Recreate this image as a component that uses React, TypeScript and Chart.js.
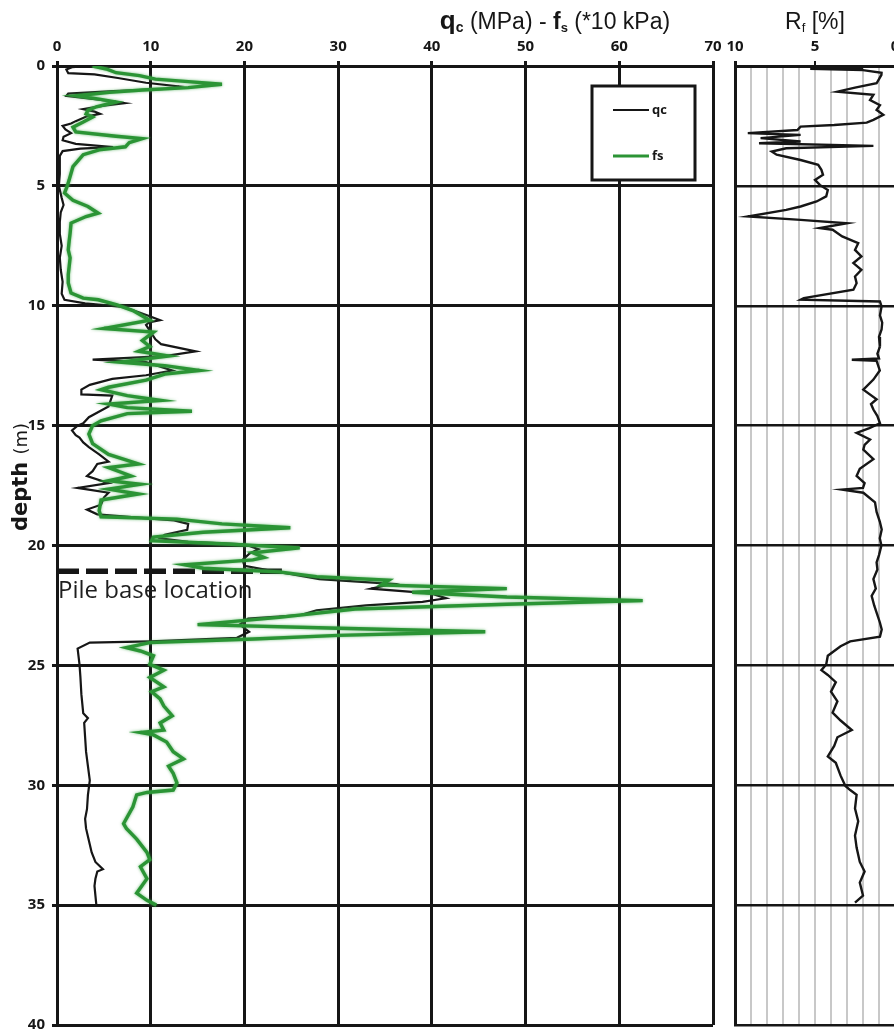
import { useEffect, useRef } from "react";
import { Chart, registerables } from "chart.js";

Chart.register(...registerables);

// Cone resistance qc (MPa) against depth (m)
const qcDepth = [
  0.0, 0.05, 0.15, 0.3, 0.35, 0.5, 0.7, 0.85, 0.95, 1.05, 1.15, 1.25, 1.4, 1.55, 1.65, 1.8, 1.9, 2.0, 2.1, 2.3,
  2.4, 2.5, 2.65, 2.8, 2.95, 3.1, 3.25, 3.38, 3.45, 3.55, 3.75, 4.5, 5.0, 5.5, 5.8, 6.1, 6.5, 7.0, 7.5, 8.0,
  8.5, 9.0, 9.5, 9.75, 9.9, 10.05, 10.2, 10.4, 10.6, 10.7, 10.8, 11.1, 11.4, 11.6, 11.9, 12.1, 12.25, 12.35, 12.7, 12.9,
  13.05, 13.3, 13.5, 13.7, 13.75, 14.2, 14.65, 14.9, 15.0, 15.2, 15.4, 15.5, 15.7, 15.9, 16.2, 16.5, 16.6, 16.9, 17.1, 17.4,
  17.6, 17.8, 18.0, 18.3, 18.5, 18.7, 18.85, 18.95, 19.1, 19.35, 19.55, 19.7, 19.85, 19.95, 20.15, 20.35, 20.6, 20.85, 21.1, 21.2,
  21.4, 21.6, 21.8, 22.0, 22.2, 22.35, 22.5, 22.7, 22.9, 23.05, 23.3, 23.6, 23.85, 24.0, 24.05, 24.3, 24.96, 25.5, 26.2, 27.0,
  27.2, 27.4, 28.0, 28.6, 29.2, 29.8, 30.4, 31.0, 31.4, 31.8, 32.3, 32.8, 33.2, 33.5, 33.6, 33.9, 34.2, 34.6, 35.0,
];
const qcValue = [
  3.5, 1.6, 1.0, 1.2, 4.0, 6.5, 9.5, 13.0, 12.0, 6.0, 1.2, 1.0, 4.5, 7.2, 5.0, 2.8, 4.0, 4.6, 3.2, 2.0,
  1.5, 0.6, 0.9, 1.5, 0.7, 0.6, 2.0, 6.0, 2.5, 0.6, 0.3, 0.3, 0.2, 0.5, 0.7, 0.4, 0.3, 0.3, 0.5, 0.3,
  0.4, 0.6, 0.5, 0.8, 3.0, 7.0, 8.2, 9.6, 11.0, 9.8, 9.5, 10.0, 10.5, 11.1, 14.8, 11.5, 3.8, 9.5, 12.3, 9.5,
  5.9, 3.5, 2.6, 2.6, 5.9, 5.5, 3.4, 2.8, 2.2, 1.6, 2.0, 2.4, 2.8, 3.4, 4.5, 5.5, 4.3, 3.8, 3.2, 5.5,
  2.2, 5.5, 5.0, 4.7, 3.2, 4.3, 9.0, 12.5, 14.0, 13.9, 11.5, 11.0, 14.0, 20.0, 21.5, 20.5, 19.8, 20.0, 23.5, 25.0,
  28.0, 35.8, 33.5, 39.9, 41.5, 39.0, 33.0, 27.7, 26.0, 20.4, 19.5, 20.5, 19.2, 10.0, 3.5, 2.2, 2.4, 2.5, 2.6, 2.8,
  3.3, 2.9, 3.0, 3.1, 3.3, 3.5, 3.3, 3.2, 3.0, 3.1, 3.4, 3.7, 4.1, 4.9, 4.3, 4.1, 4.0, 4.1, 4.2,
];

// Sleeve friction fs (x10 kPa) against depth (m)
const fsDepth = [
  0.0, 0.14, 0.28, 0.4, 0.55, 0.65, 0.76, 0.9, 1.0, 1.1, 1.24, 1.38, 1.5, 1.7, 1.85, 2.0, 2.13, 2.34, 2.55, 2.75,
  2.93, 3.03, 3.2, 3.37, 3.5, 3.7, 4.2, 4.75, 5.0, 5.3, 5.6, 5.86, 6.14, 6.28, 6.55, 6.97, 7.3, 7.67, 8.0, 8.36,
  8.7, 9.05, 9.47, 9.68, 9.75, 9.96, 10.2, 10.45, 10.6, 10.95, 11.1, 11.45, 11.7, 11.9, 12.1, 12.35, 12.5, 12.7, 12.85, 13.1,
  13.4, 13.5, 13.75, 13.95, 14.1, 14.25, 14.4, 14.5, 14.8, 15.0, 15.35, 15.75, 16.2, 16.6, 16.75, 17.1, 17.3, 17.45, 17.65, 17.85,
  18.1, 18.55, 18.8, 18.9, 19.1, 19.26, 19.45, 19.65, 19.8, 19.93, 20.1, 20.3, 20.5, 20.6, 20.8, 20.95, 21.1, 21.3, 21.45, 21.65,
  21.8, 21.95, 22.15, 22.3, 22.45, 22.65, 23.0, 23.3, 23.45, 23.6, 23.75, 23.9, 24.05, 24.26, 24.4, 24.6, 24.96, 25.2, 25.5, 25.9,
  26.1, 26.4, 26.7, 27.1, 27.4, 27.7, 27.8, 27.9, 28.2, 28.6, 28.9, 29.2, 29.5, 29.9, 30.2, 30.3, 30.4, 30.9, 31.6, 31.8,
  32.25, 32.8, 33.1, 33.4, 33.9, 34.5, 34.8, 35.0,
];
const fsValue = [
  3.8, 5.4, 6.3, 8.8, 10.5, 14.0, 17.6, 14.0, 9.1, 5.6, 2.0, 4.5, 6.3, 4.2, 3.3, 3.1, 3.8, 2.8, 1.7, 2.0,
  6.3, 9.1, 7.7, 7.3, 4.5, 2.8, 1.7, 1.3, 1.1, 0.8, 1.7, 3.3, 4.4, 3.1, 1.5, 1.4, 1.3, 1.2, 1.4, 1.3,
  1.2, 1.2, 1.5, 2.8, 4.4, 6.4, 8.1, 9.2, 9.9, 5.0, 10.3, 9.1, 9.9, 8.7, 11.9, 6.7, 11.5, 15.2, 11.5, 9.5,
  5.5, 4.7, 7.5, 11.1, 5.5, 7.5, 14.4, 7.5, 4.7, 3.8, 3.4, 3.8, 5.5, 8.7, 5.5, 7.9, 5.5, 8.9, 5.5, 8.7,
  4.7, 4.5, 4.7, 12.8, 17.6, 24.9, 15.6, 10.3, 10.1, 17.6, 25.9, 20.9, 22.1, 20.9, 13.6, 15.6, 23.7, 27.7, 35.4, 34.6,
  48.0, 37.9, 48.0, 62.5, 48.0, 31.8, 23.7, 15.0, 30.0, 45.7, 30.0, 21.0, 9.9, 7.4, 8.9, 10.3, 9.9, 11.4, 9.9, 11.4,
  10.1, 11.0, 11.4, 12.3, 11.0, 11.4, 8.9, 10.3, 11.7, 12.4, 13.5, 11.9, 12.4, 12.8, 12.4, 9.6, 8.5, 8.1, 7.1, 7.4,
  8.5, 9.6, 9.9, 8.9, 9.6, 8.5, 9.6, 10.6,
];

// Friction ratio Rf (%) against depth (m)
const rfDepth = [
  0.0, 0.1, 0.12, 0.17, 0.28, 0.37, 0.55, 0.72, 0.9, 1.07, 1.2, 1.42, 1.63, 1.83, 2.04, 2.25, 2.36, 2.46, 2.53, 2.67,
  2.8, 2.875, 3.01, 3.15, 3.22, 3.33, 3.43, 3.57, 3.7, 3.92, 4.12, 4.33, 4.54, 4.75, 4.96, 5.17, 5.44, 5.65, 5.86, 6.0,
  6.28, 6.42, 6.56, 6.76, 6.83, 7.11, 7.39, 7.67, 7.94, 8.22, 8.5, 8.78, 9.06, 9.33, 9.68, 9.75, 9.82, 10.03, 10.4, 10.7,
  10.99, 11.3, 11.7, 12.0, 12.2, 12.25, 12.3, 12.7, 13.08, 13.5, 13.9, 14.1, 14.33, 14.6, 14.9, 15.1, 15.3, 15.58, 15.8, 16.0,
  16.4, 16.8, 17.1, 17.4, 17.6, 17.67, 17.8, 18.2, 18.6, 19.0, 19.33, 19.7, 20.0, 20.4, 20.7, 21.0, 21.4, 21.8, 22.1, 22.5,
  22.8, 23.2, 23.5, 23.8, 24.0, 24.2, 24.4, 24.6, 24.96, 25.2, 25.4, 25.7, 26.1, 26.5, 26.97, 27.3, 27.7, 28.0, 28.36, 28.8,
  29.06, 29.6, 30.03, 30.2, 30.4, 30.97, 31.5, 32.1, 32.6, 33.2, 33.6, 34.06, 34.6, 34.9,
];
const rfValue = [
  5.5, 2.0, 5.3, 2.0, 0.84, 0.85, 1.0, 1.15, 2.5, 3.6, 1.35, 1.56, 0.94, 1.15, 0.73, 1.35, 1.77, 3.8, 5.9, 6.1,
  9.2, 5.9, 8.4, 5.9, 8.5, 1.35, 6.8, 7.7, 7.4, 5.9, 4.8, 4.6, 4.5, 5.0, 4.7, 4.2, 4.3, 4.9, 5.9, 6.8,
  9.2, 5.9, 3.0, 4.7, 3.9, 3.3, 2.3, 2.5, 2.1, 2.6, 2.1, 2.5, 2.4, 2.6, 5.7, 5.9, 0.94, 0.84, 0.94, 0.8,
  0.84, 1.0, 0.94, 1.1, 1.0, 2.7, 1.15, 0.95, 1.35, 1.98, 1.15, 1.5, 1.35, 1.1, 0.94, 1.6, 2.4, 1.56, 1.9, 1.98,
  1.35, 2.2, 2.4, 1.9, 2.0, 3.3, 1.98, 1.25, 1.15, 0.95, 0.83, 0.95, 0.85, 1.0, 1.15, 1.1, 1.35, 1.2, 1.46, 1.3,
  1.15, 0.95, 0.83, 0.94, 2.8, 3.4, 3.8, 4.2, 4.3, 4.6, 4.2, 3.7, 4.0, 3.6, 3.9, 3.4, 2.7, 3.6, 3.8, 4.2,
  3.7, 3.4, 3.1, 2.8, 2.4, 2.5, 2.3, 2.5, 2.4, 2.2, 1.9, 2.2, 2.0, 2.5,
];

// Pile base marker: depth (m) and reach along the qc axis
const pileBaseDepth = 21.07;
const pileBaseReach = [0, 24];
const pileBaseLabel = "Pile base location";

const seriesLabels = ["qc", "fs"];
const depthRange = [0, 40];
const mainRange = [0, 70];
const rfRange = [0, 10];

const INK = "#161616";
const GREEN = "#2b9435";
const TICK_FONT = { family: "'Open Sans', sans-serif", size: 15, weight: "bold" as const };

type Run = { text: string; font: string; dy?: number };

function runsWidth(ctx: CanvasRenderingContext2D, runs: Run[]) {
  let w = 0;
  for (const r of runs) {
    ctx.font = r.font;
    w += ctx.measureText(r.text).width;
  }
  return w;
}

function drawRuns(ctx: CanvasRenderingContext2D, runs: Run[], x: number, baseline: number) {
  let cx = x;
  ctx.textAlign = "left";
  ctx.textBaseline = "alphabetic";
  for (const r of runs) {
    ctx.font = r.font;
    ctx.fillText(r.text, cx, baseline + (r.dy || 0));
    cx += ctx.measureText(r.text).width;
  }
}

const toPoints = (depths: number[], values: number[]) =>
  depths.map((d, i) => ({ x: values[i], y: d }));

// keep the plot box exactly where the layout padding puts it
const noEdgePadding = (s: any) => {
  s.paddingLeft = 0;
  s.paddingRight = 0;
  s.paddingTop = 0;
  s.paddingBottom = 0;
};

// soft halo on the friction trace
const haloPlugin = {
  id: "fsHalo",
  beforeDatasetDraw(chart: any, args: any) {
    if (chart.data.datasets[args.index].label !== "fs") return;
    const ctx = chart.ctx;
    ctx.save();
    ctx.shadowColor = "rgba(70,170,80,0.75)";
    ctx.shadowBlur = 3;
  },
  afterDatasetDraw(chart: any, args: any) {
    if (chart.data.datasets[args.index].label !== "fs") return;
    chart.ctx.restore();
  },
};

const mainDecor = {
  id: "mainDecor",
  afterDraw(chart: any) {
    const ctx: CanvasRenderingContext2D = chart.ctx;
    const xs = chart.scales.x;
    const ys = chart.scales.y;
    ctx.save();
    ctx.fillStyle = INK;

    // axis heading with subscripts
    const sans = "'Liberation Sans', Arial, sans-serif";
    const title: Run[] = [
      { text: "q", font: `bold 26px ${sans}` },
      { text: "c", font: `bold 14px ${sans}`, dy: 3 },
      { text: " (MPa) - ", font: `23px ${sans}` },
      { text: "f", font: `bold 23px ${sans}` },
      { text: "s", font: `bold 13px ${sans}`, dy: 3 },
      { text: " (*10 kPa)", font: `23px ${sans}` },
    ];
    const tw = runsWidth(ctx, title);
    drawRuns(ctx, title, 555 - tw / 2, 29);

    // rotated depth heading
    const yTitle: Run[] = [
      { text: "depth ", font: `bold 21px 'DejaVu Sans', sans-serif` },
      { text: "(m)", font: `18px 'DejaVu Sans', sans-serif` },
    ];
    ctx.save();
    const yw = runsWidth(ctx, yTitle);
    ctx.translate(27, 477);
    ctx.rotate(-Math.PI / 2);
    drawRuns(ctx, yTitle, -yw / 2, 0);
    ctx.restore();

    // pile base caption
    ctx.font = "24px 'Open Sans', sans-serif";
    ctx.fillStyle = "#1e1e1e";
    ctx.textAlign = "left";
    ctx.textBaseline = "alphabetic";
    ctx.fillText(pileBaseLabel, xs.getPixelForValue(0) + 1, ys.getPixelForValue(pileBaseDepth) + 27);

    // legend box
    const bx = 592, by = 86, bw = 103, bh = 94;
    ctx.fillStyle = "#ffffff";
    ctx.fillRect(bx, by, bw, bh);
    ctx.strokeStyle = INK;
    ctx.lineWidth = 3;
    ctx.strokeRect(bx, by, bw, bh);
    const rows = [110, 156];
    chart.data.datasets.slice(0, 2).forEach((ds: any, i: number) => {
      ctx.beginPath();
      ctx.strokeStyle = ds.borderColor;
      ctx.lineWidth = i === 0 ? 2 : 3;
      ctx.moveTo(613, rows[i]);
      ctx.lineTo(649, rows[i]);
      ctx.stroke();
      ctx.fillStyle = INK;
      ctx.font = "bold 13px 'Open Sans', sans-serif";
      ctx.textBaseline = "middle";
      ctx.fillText(ds.label, 652, rows[i]);
    });
    ctx.restore();
  },
};

const rfDecor = {
  id: "rfDecor",
  afterDraw(chart: any) {
    const ctx: CanvasRenderingContext2D = chart.ctx;
    ctx.save();
    ctx.fillStyle = INK;
    const sans = "'Liberation Sans', Arial, sans-serif";
    const title: Run[] = [
      { text: "R", font: `23px ${sans}` },
      { text: "f", font: `13px ${sans}`, dy: 3 },
      { text: " [%]", font: `23px ${sans}` },
    ];
    const tw = runsWidth(ctx, title);
    drawRuns(ctx, title, 815 - 722 - tw / 2, 29);
    ctx.restore();
  },
};

export default function App() {
  const mainRef = useRef<HTMLCanvasElement>(null);
  const rfRef = useRef<HTMLCanvasElement>(null);

  useEffect(() => {
    const depthScale = (opts: any) => ({
      type: "linear",
      min: depthRange[0],
      max: depthRange[1],
      reverse: true,
      ...opts,
    });

    const main = new Chart(mainRef.current!, {
      type: "line",
      data: {
        datasets: [
          {
            label: seriesLabels[0],
            data: toPoints(qcDepth, qcValue),
            borderColor: INK,
            borderWidth: 2.2,
            pointRadius: 0,
            tension: 0,
            order: 1,
          },
          {
            label: seriesLabels[1],
            data: toPoints(fsDepth, fsValue),
            borderColor: GREEN,
            borderWidth: 3.4,
            pointRadius: 0,
            tension: 0,
            order: 0,
          },
          {
            label: pileBaseLabel,
            data: pileBaseReach.map((v) => ({ x: v, y: pileBaseDepth })),
            borderColor: INK,
            borderWidth: 5.5,
            borderDash: [22, 7],
            pointRadius: 0,
            order: 2,
          },
        ],
      },
      options: {
        animation: false,
        responsive: false,
        indexAxis: "y",
        layout: { padding: { left: 0, top: 0, right: 9, bottom: 7 } },
        plugins: { legend: { display: false }, tooltip: { enabled: false } },
        scales: {
          x: {
            type: "linear",
            position: "top",
            min: mainRange[0],
            max: mainRange[1],
            ticks: { stepSize: 10, font: TICK_FONT, color: INK, padding: 5, maxRotation: 0 },
            grid: { color: INK, lineWidth: 3, tickLength: 5 },
            border: { color: INK, width: 3 },
            afterFit: (s: any) => {
              s.height = 66;
              noEdgePadding(s);
            },
          },
          y: depthScale({
            ticks: { stepSize: 5, font: TICK_FONT, color: INK, padding: 7 },
            grid: { color: INK, lineWidth: 3, tickLength: 5 },
            border: { color: INK, width: 3 },
            afterFit: (s: any) => {
              s.width = 57;
              noEdgePadding(s);
            },
          }),
        },
      } as any,
      plugins: [haloPlugin, mainDecor],
    });

    const rf = new Chart(rfRef.current!, {
      type: "line",
      data: {
        datasets: [
          {
            label: "Rf",
            data: toPoints(rfDepth, rfValue),
            borderColor: INK,
            borderWidth: 2.4,
            pointRadius: 0,
            tension: 0,
          },
        ],
      },
      options: {
        animation: false,
        responsive: false,
        indexAxis: "y",
        layout: { padding: { left: 13, top: 0, right: 7, bottom: 7 } },
        plugins: { legend: { display: false }, tooltip: { enabled: false } },
        scales: {
          x: {
            type: "linear",
            position: "top",
            min: rfRange[0],
            max: rfRange[1],
            reverse: true,
            ticks: {
              stepSize: 1,
              font: TICK_FONT,
              color: INK,
              padding: 5,
              maxRotation: 0,
              autoSkip: false,
              callback: (v: any) => (Number(v) % 5 === 0 ? String(v) : ""),
            },
            grid: {
              color: (c: any) => (c.tick && c.tick.value === rfRange[1] ? INK : "#c8c8c8"),
              lineWidth: (c: any) => (c.tick && c.tick.value === rfRange[1] ? 3 : 2),
              tickColor: (c: any) => (c.tick && c.tick.value % 5 === 0 ? INK : "rgba(0,0,0,0)"),
              tickLength: 5,
            },
            border: { color: INK, width: 3 },
            afterFit: (s: any) => {
              s.height = 66;
              noEdgePadding(s);
            },
          },
          y: depthScale({
            ticks: { stepSize: 5, display: false },
            grid: { color: INK, lineWidth: 2.5, drawTicks: false },
            border: { color: INK, width: 3 },
            afterFit: (s: any) => {
              s.width = 0;
              noEdgePadding(s);
            },
          }),
        },
      } as any,
      plugins: [rfDecor],
    });

    return () => {
      main.destroy();
      rf.destroy();
    };
  }, []);

  return (
    <div
      style={{
        position: "fixed",
        left: 0,
        top: 0,
        width: 894,
        height: 1032,
        overflow: "hidden",
        background: "#ffffff",
      }}
    >
      <canvas
        ref={mainRef}
        width={722}
        height={1032}
        style={{ position: "absolute", left: 0, top: 0, width: 722, height: 1032 }}
      />
      <canvas
        ref={rfRef}
        width={180}
        height={1032}
        style={{ position: "absolute", left: 722, top: 0, width: 180, height: 1032 }}
      />
    </div>
  );
}
